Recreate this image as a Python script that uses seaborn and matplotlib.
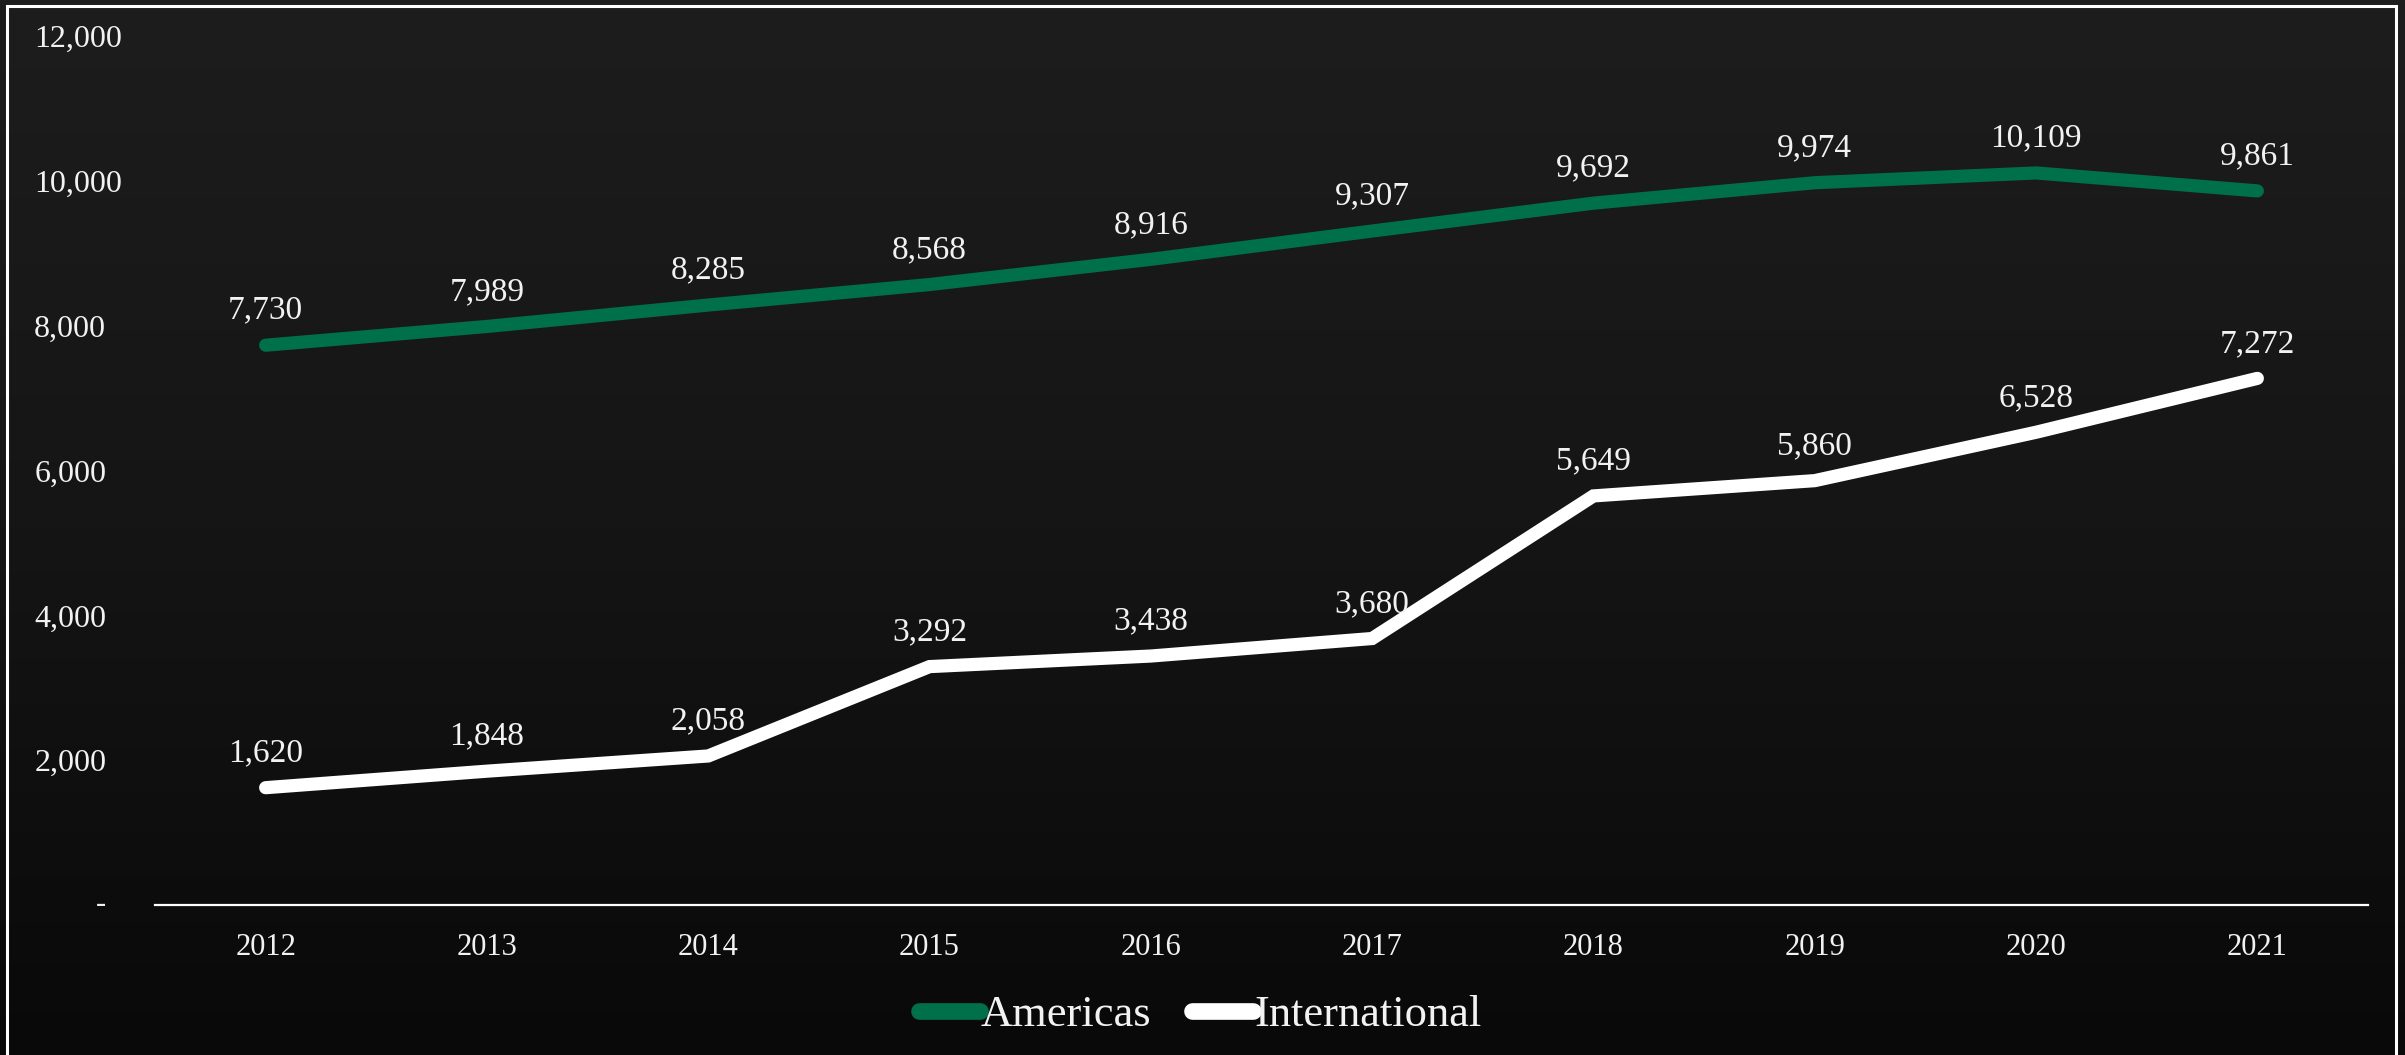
import numpy as np
import pandas as pd
import matplotlib
matplotlib.use('Agg')
import matplotlib.pyplot as plt
import matplotlib.transforms as mtransforms
from matplotlib.patches import Rectangle
import seaborn as sns

# dati
anni = [2012, 2013, 2014, 2015, 2016, 2017, 2018, 2019, 2020, 2021]
americas = [7730, 7989, 8285, 8568, 8916, 9307, 9692, 9974, 10109, 9861]
international = [1620, 1848, 2058, 3292, 3438, 3680, 5649, 5860, 6528, 7272]
serie = ['Americas', 'International']
colori = {'Americas': '#00704A', 'International': '#FFFFFF'}
yticks = [0, 2000, 4000, 6000, 8000, 10000, 12000]

df = pd.DataFrame({
    'Anno': anni * 2,
    'Valore': americas + international,
    'Serie': ['Americas'] * len(anni) + ['International'] * len(anni),
})

sns.set_style('dark')
plt.rcParams['font.family'] = ['Liberation Serif', 'DejaVu Serif']
testo = '#F2F2F2'

W, H = 2405, 1055
fig = plt.figure(figsize=(W / 100, H / 100), dpi=100)

# sfondo sfumato scuro
bg = fig.add_axes([0, 0, 1, 1], zorder=-10)
grad = np.linspace(0, 1, 256).reshape(-1, 1)
cmap = matplotlib.colors.LinearSegmentedColormap.from_list('bg', ['#1d1d1d', '#151515', '#090909'])
bg.imshow(grad, aspect='auto', cmap=cmap, extent=[0, 1, 0, 1])
bg.axis('off')

# cornice bianca
fig.patches.append(Rectangle((7 / W, -0.05), (2396 - 7) / W, 1 - 6 / H + 0.05,
                             transform=fig.transFigure, fill=False,
                             edgecolor='white', linewidth=2.2, zorder=5))

ax = fig.add_axes([155 / W, 1 - 905 / H, (2368 - 155) / W, (905 - 36) / H])
ax.set_facecolor('none')

sns.lineplot(data=df, x='Anno', y='Valore', hue='Serie', hue_order=serie,
             palette=colori, linewidth=9.5, legend=False, ax=ax,
             solid_capstyle='round', solid_joinstyle='miter')

for nome, valori in zip(serie, [americas, international]):
    for a, v in zip(anni, valori):
        ax.annotate(f'{v:,}', (a, v), xytext=(0, 14), textcoords='offset points',
                    ha='center', va='bottom', color=testo, fontsize=24)

ax.set_xlim(2011.5, 2021.5)
ax.set_ylim(0, 12000)
ax.set_xticks(anni)
ax.set_xticklabels([str(a) for a in anni], color=testo, fontsize=22)
ax.set_yticks(yticks)
ax.set_yticklabels(['' if t == 0 else f'{t:,}' for t in yticks],
                   color=testo, fontsize=23, ha='left')
ax.tick_params(axis='y', length=0, pad=87)
ax.tick_params(axis='x', length=0, pad=20)

# trattino per lo zero (formato contabile)
tr = mtransforms.blended_transform_factory(fig.transFigure, ax.transData)
ax.text(96 / W, 0, '-', transform=tr, ha='left', va='center', color=testo, fontsize=22)

ax.set_xlabel('')
ax.set_ylabel('')
ax.grid(False)
for s in ['top', 'right', 'left']:
    ax.spines[s].set_visible(False)
ax.spines['bottom'].set_color('white')
ax.spines['bottom'].set_linewidth(1.6)

leg = fig.legend(handles=ax.get_lines()[:2], labels=serie, loc='center',
                 bbox_to_anchor=(1200 / W, 1 - 1015 / H), ncol=2, frameon=False,
                 fontsize=32, labelcolor=testo, handlelength=1.37, handletextpad=0.03,
                 columnspacing=0.9)
for h in leg.legend_handles:
    h.set_linewidth(12)

fig.savefig('out.png', dpi=100)
